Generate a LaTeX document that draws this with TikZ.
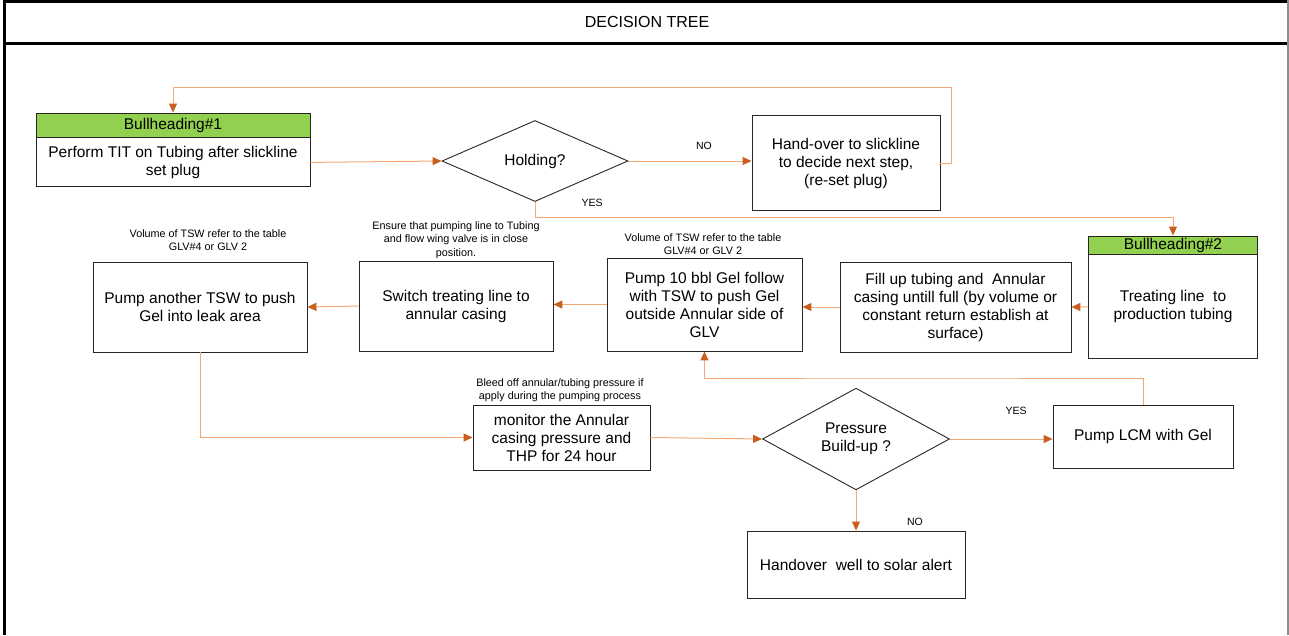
\documentclass[tikz,border=0pt]{standalone}
\usepackage{fontspec}
\setmainfont{Liberation Sans}
\usepackage{xcolor}
\usepackage{tikz}
\usetikzlibrary{
  positioning,
  calc,
  arrows.meta,
  shapes.geometric
}

\definecolor{flowline}{RGB}{243,168,118}
\definecolor{flowtip}{RGB}{200,95,30}
\definecolor{headgreen}{RGB}{146,208,80}

\tikzset{
  stepbox/.style={draw=black!85, line width=0.9pt, align=center, inner sep=0pt,
    font=\fontsize{15.5}{18}\selectfont},
  headbox/.style={stepbox, fill=headgreen},
  decide/.style={diamond, draw=black!85, line width=0.9pt, align=center, inner sep=0pt,
    font=\fontsize{15.5}{18}\selectfont},
  note/.style={align=center, inner sep=0pt, font=\fontsize{10.8}{13.5}\selectfont},
  answer/.style={inner sep=0pt, font=\fontsize{10.5}{12}\selectfont},
  flow/.style={draw=flowline, line width=1pt,
    -{Triangle[length=9pt,width=8pt,color=flowtip]}}
}

\begin{document}
\begin{tikzpicture}[x=1pt,y=-1pt]
  \useasboundingbox (0,0) rectangle (1289,635);

  % 枠とタイトル
  \draw[line width=3pt] (4,0) -- (4,635);
  \draw[line width=3pt] (4,1.5) -- (1289,1.5);
  \draw[line width=3pt] (4,43) -- (1289,43);
  \draw[black!45, line width=1.5pt] (1288,0) -- (1288,635);
  \node[font=\fontsize{16}{18}\selectfont] (title) at (647,22) {DECISION TREE};

  % 上段
  \node[headbox, minimum width=274pt, minimum height=24pt] (bh1) at (173,125) {Bullheading\#1};
  \node[stepbox, minimum width=274pt, minimum height=49pt, anchor=north] (perf) at (bh1.south)
    {Perform TIT on Tubing after slickline\\set plug};
  \node[decide, minimum width=186pt, minimum height=81pt] (hold) at (535,161) {Holding?};
  \node[stepbox, minimum width=188pt, minimum height=95pt] (hand) at (846,163)
    {Hand-over to slickline\\to decide next step,\\(re-set plug)};

  % 中段
  \node[headbox, minimum width=169pt, minimum height=18pt] (bh2) at (1173,245) {Bullheading\#2};
  \node[stepbox, minimum width=169pt, minimum height=104pt, anchor=north] (tl) at (bh2.south)
    {Treating line\ \ to\\production tubing};
  \node[stepbox, minimum width=231pt, minimum height=90pt] (fill) at (955.5,307)
    {Fill up tubing and\ \ Annular\\casing untill full (by volume or\\constant return establish at\\surface)};
  \node[stepbox, minimum width=195pt, minimum height=93pt] (gel) at (704.5,304.5)
    {Pump 10 bbl Gel follow\\with TSW to push Gel\\outside Annular side of\\GLV};
  \node[stepbox, minimum width=194pt, minimum height=90pt] (switch) at (456,306)
    {Switch treating line to\\annular casing};
  \node[stepbox, minimum width=214pt, minimum height=90pt] (push) at (200,307)
    {Pump another TSW to push\\Gel into leak area};

  % 注記
  \node[note] (pushnote) at (208,240) {Volume of TSW refer to the table\\GLV\#4 or GLV 2};
  \node[note] (switchnote) at (456,240)
    {Ensure that pumping line to Tubing\\and flow wing valve is in close\\position.};
  \node[note] (gelnote) at (703,244) {Volume of TSW refer to the table\\GLV\#4 or GLV 2};
  \node[note] (monnote) at (560,390)
    {Bleed off annular/tubing pressure if\\apply during the pumping process};

  % 下段
  \node[stepbox, minimum width=177pt, minimum height=65pt] (mon) at (561.5,437.5)
    {monitor the Annular\\casing pressure and\\THP for 24 hour};
  \node[decide, minimum width=187pt, minimum height=81pt] (press) at (856,439)
    {Pressure\\Build-up ?};
  \node[stepbox, minimum width=180pt, minimum height=63pt] (lcm) at (1143,436.5)
    {Pump LCM with Gel};
  \node[stepbox, minimum width=218pt, minimum height=67pt] (solar) at (856,564.5)
    {Handover\ \ well to solar alert};

  % 分岐のラベル
  \node[answer] (no1) at (704,146) {NO};
  \node[answer] (yes1) at (592,203) {YES};
  \node[answer] (yes2) at (1016,411) {YES};
  \node[answer] (no2) at (915,522) {NO};

  % 矢印
  \coordinate (loopturn) at (951,87);
  \coordinate (yesturn) at (535,217);
  \coordinate (backturn) at (900,378);
  \draw[flow] (perf.east) -- (hold.west);
  \draw[flow] (hold.east) -- (hold.east -| hand.west);
  \draw[flow] (hand.east) -| (loopturn) -| (bh1.north);
  \draw[flow] (hold.south) -- (yesturn) -| (bh2.north);
  \draw[flow] (tl.west) -- (fill.east);
  \draw[flow] (fill.west) -- (fill.west -| gel.east);
  \draw[flow] (gel.west) -- (gel.west -| switch.east);
  \draw[flow] (switch.west) -- (push.east);
  \draw[flow] (push.south) |- (mon.west);
  \draw[flow] (mon.east) -- (press.west);
  \draw[flow] (press.east) -- (press.east -| lcm.west);
  \draw[flow] (lcm.north) |- (backturn) -| (gel.south);
  \draw[flow] (press.south) -- (solar.north);
\end{tikzpicture}
\end{document}
